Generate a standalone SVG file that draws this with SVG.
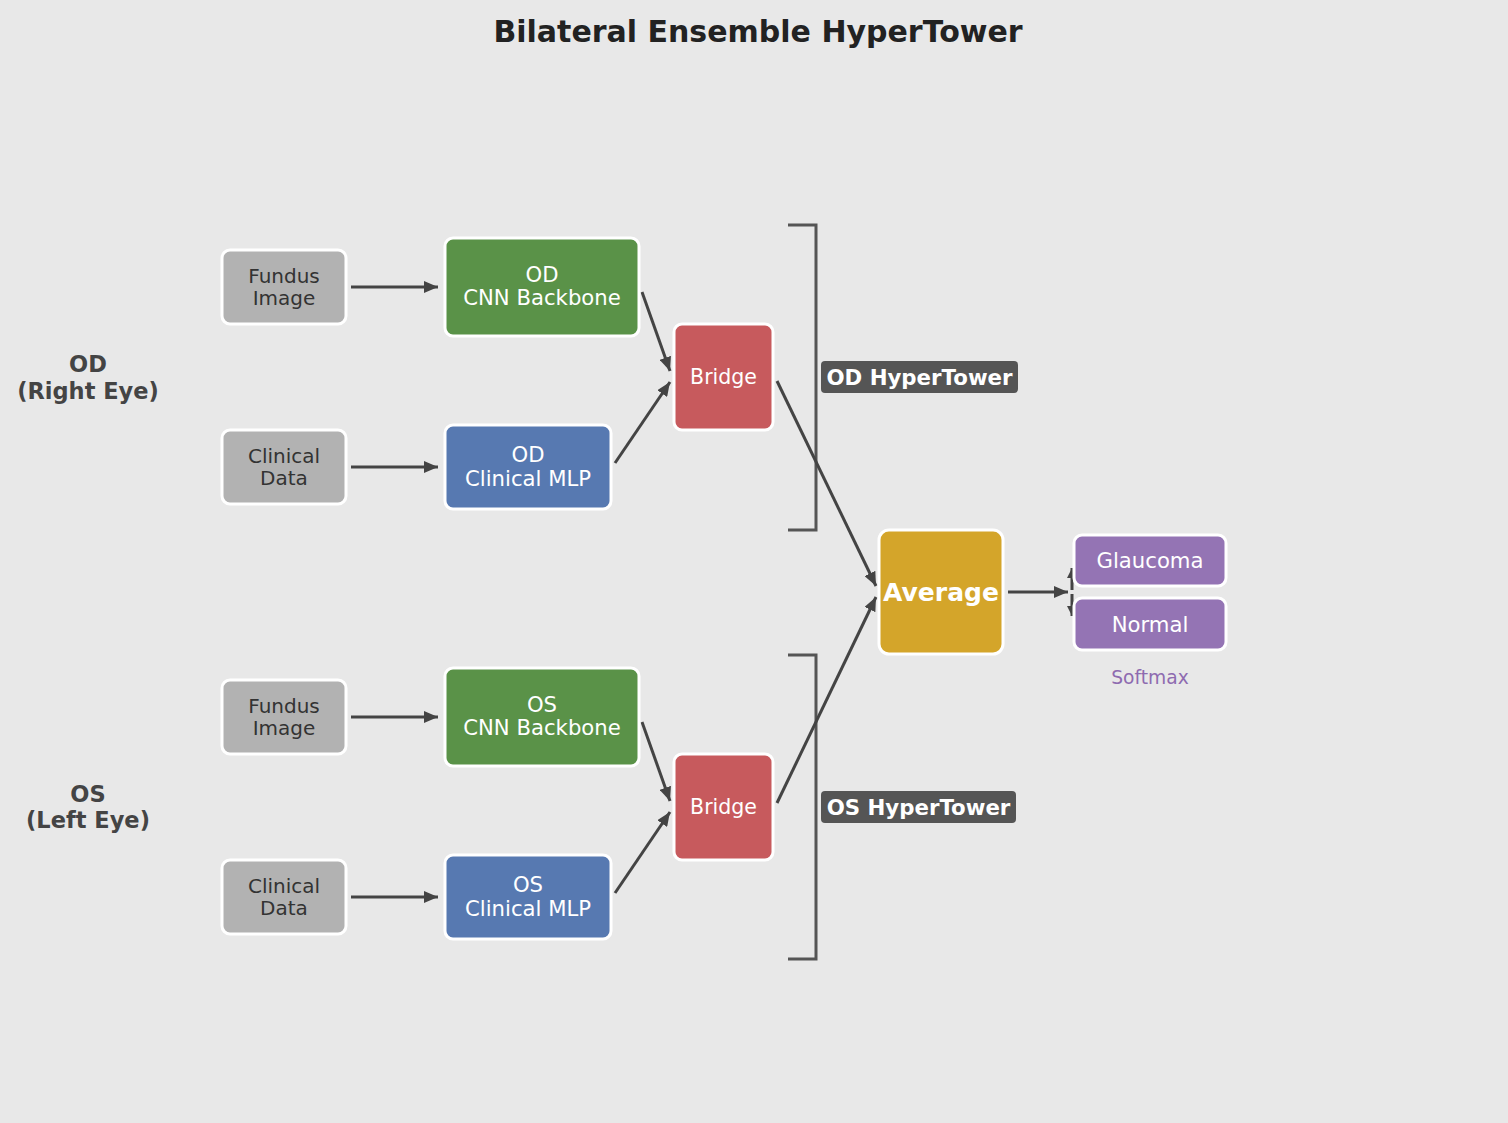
<svg xmlns="http://www.w3.org/2000/svg" width="1508" height="1123" viewBox="0 0 1508 1123">
<defs>
<marker id="ah" markerUnits="userSpaceOnUse" markerWidth="16" markerHeight="12" refX="14" refY="6" orient="auto">
<path d="M0,0 L14,6 L0,12 Z" fill="#444"/>
</marker>
<marker id="ahs" markerUnits="userSpaceOnUse" markerWidth="12" markerHeight="10" refX="10" refY="5" orient="auto">
<path d="M0,0 L10,5 L0,10 Z" fill="#444"/>
</marker>
<style>
text{font-family:"DejaVu Sans","Liberation Sans",sans-serif;text-anchor:middle}
.node rect{stroke:#fff;stroke-width:3}
.gray rect{fill:#b2b2b2}
.gray text{fill:#333;font-size:20px}
.green rect{fill:#5a9248}
.blue rect{fill:#5779b1}
.green text,.blue text{fill:#fff;font-size:21.2px}
.red rect{fill:#c75a5d}
.red text{fill:#fff;font-size:20.5px}
.purple rect{fill:#9474b4}
.purple text{fill:#fff;font-size:21.2px}
.conn line{stroke:#444;stroke-width:3;marker-end:url(#ah)}
.bracket{fill:none;stroke:#555;stroke-width:3}
.side{fill:#444;font-size:22.5px;font-weight:bold}
.tag rect{fill:#555}
.tag text{fill:#fff;font-size:21.3px;font-weight:bold}
</style>
</defs>
<rect width="1508" height="1123" fill="#e8e8e8"/>
<text x="758" y="42" font-size="30" font-weight="bold" fill="#222">Bilateral Ensemble HyperTower</text>

<text class="side" x="88" y="372">OD</text>
<text class="side" x="88" y="399">(Right Eye)</text>
<text class="side" x="88" y="802">OS</text>
<text class="side" x="88" y="828">(Left Eye)</text>

<path class="bracket" d="M788,225 H816 V530 H788"/>
<path class="bracket" d="M788,655 H816 V959 H788"/>
<g class="tag" id="od-tower-label"><rect x="821" y="361" width="197" height="32" rx="4"/><text x="919.5" y="384.5">OD HyperTower</text></g>
<g class="tag" id="os-tower-label"><rect x="821" y="791" width="195" height="32" rx="4"/><text x="918.5" y="814.5">OS HyperTower</text></g>

<g class="conn" id="connectors">
<line x1="351" y1="287" x2="438" y2="287"/>
<line x1="351" y1="467" x2="438" y2="467"/>
<line x1="642" y1="292" x2="670" y2="371"/>
<line x1="615" y1="463" x2="670" y2="382"/>
<line x1="777" y1="381" x2="876" y2="586"/>
<line x1="351" y1="717" x2="438" y2="717"/>
<line x1="351" y1="897" x2="438" y2="897"/>
<line x1="642" y1="722" x2="670" y2="801"/>
<line x1="615" y1="893" x2="670" y2="812"/>
<line x1="777" y1="803" x2="876" y2="597"/>
<line x1="1008" y1="592" x2="1068" y2="592"/>
<line x1="1072" y1="590" x2="1072" y2="568" style="marker-end:url(#ahs)"/>
<line x1="1072" y1="594" x2="1072" y2="616" style="marker-end:url(#ahs)"/>
</g>

<g class="node gray" id="od-fundus"><rect x="222" y="250" width="124" height="74" rx="8"/><text x="284" y="283">Fundus</text><text x="284" y="305">Image</text></g>
<g class="node gray" id="od-clinical"><rect x="222" y="430" width="124" height="74" rx="8"/><text x="284" y="463">Clinical</text><text x="284" y="485">Data</text></g>
<g class="node green" id="od-cnn"><rect x="445" y="238" width="194" height="98" rx="8"/><text x="542" y="282">OD</text><text x="542" y="305">CNN Backbone</text></g>
<g class="node blue" id="od-mlp"><rect x="445" y="425" width="166" height="84" rx="8"/><text x="528" y="462">OD</text><text x="528" y="486">Clinical MLP</text></g>
<g class="node red" id="od-bridge"><rect x="674" y="324" width="99" height="106" rx="8"/><text x="723.5" y="384">Bridge</text></g>

<g class="node gray" id="os-fundus"><rect x="222" y="680" width="124" height="74" rx="8"/><text x="284" y="713">Fundus</text><text x="284" y="735">Image</text></g>
<g class="node gray" id="os-clinical"><rect x="222" y="860" width="124" height="74" rx="8"/><text x="284" y="893">Clinical</text><text x="284" y="915">Data</text></g>
<g class="node green" id="os-cnn"><rect x="445" y="668" width="194" height="98" rx="8"/><text x="542" y="712">OS</text><text x="542" y="735">CNN Backbone</text></g>
<g class="node blue" id="os-mlp"><rect x="445" y="855" width="166" height="84" rx="8"/><text x="528" y="892">OS</text><text x="528" y="916">Clinical MLP</text></g>
<g class="node red" id="os-bridge"><rect x="674" y="754" width="99" height="106" rx="8"/><text x="723.5" y="814">Bridge</text></g>

<g class="node" id="average"><rect x="879" y="530" width="124" height="124" rx="10" fill="#d4a52a"/><text x="941" y="601" font-size="25" font-weight="bold" fill="#fff">Average</text></g>
<g class="node purple" id="glaucoma"><rect x="1074" y="535" width="152" height="51" rx="8"/><text x="1150" y="568">Glaucoma</text></g>
<g class="node purple" id="normal"><rect x="1074" y="598" width="152" height="52" rx="8"/><text x="1150" y="632">Normal</text></g>
<text x="1150" y="684" font-size="18.7" fill="#8e6bb0">Softmax</text>
</svg>
